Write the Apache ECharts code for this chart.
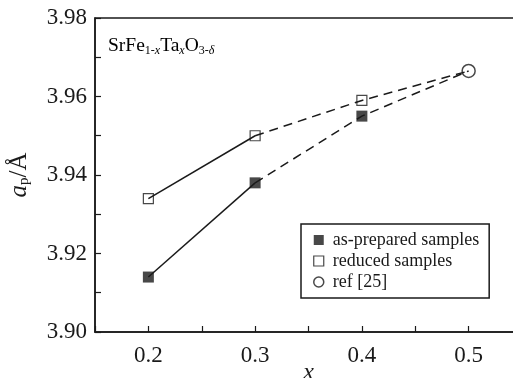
<!DOCTYPE html>
<html>
<head>
<meta charset="utf-8">
<script src="https://cdn.jsdelivr.net/npm/echarts@6/dist/echarts.min.js"></script>
<style>
  html, body { margin: 0; padding: 0; background: #fff; }
  #chart { width: 513px; height: 378px; }
</style>
</head>
<body>
<div id="chart"></div>
<script>
// composition x in SrFe(1-x)Ta(x)O(3-d)
const xValues = [0.2, 0.3, 0.4]
const asPrepared = [3.914, 3.938, 3.955]
const reduced = [3.934, 3.950, 3.959]
const refX = [0.5]
const refA = [3.9665]
const yTicks = [3.90, 3.92, 3.94, 3.96, 3.98]
const xTicks = [0.2, 0.3, 0.4, 0.5]

const INK = '#1a1a1a'
const FONT = '"Liberation Serif", "DejaVu Serif", serif'

const pairs = (xs, ys) => xs.map((x, i) => [x, ys[i]])
const asPts = pairs(xValues, asPrepared)
const redPts = pairs(xValues, reduced)
const refPts = pairs(refX, refA)

const near = (v, list) => list.some(t => Math.abs(t - v) < 1e-6)

const chart = echarts.init(document.getElementById('chart'), null, { renderer: 'canvas' })

const lineBase = {
    type: 'line',
    showSymbol: false,
    symbol: 'none',
    silent: true,
    animation: false,
    z: 2,
}

const option = {
    animation: false,
    textStyle: { fontFamily: FONT, color: INK },
    grid: {
        left: 95, top: 18, right: -9, bottom: 46,
        outerBoundsMode: 'none',
        containLabel: false,
        show: true, borderColor: INK, borderWidth: 1.5, backgroundColor: 'transparent',
    },
    xAxis: {
        type: 'value', min: 0.15, max: 0.55, interval: 0.05,
        axisLine: { lineStyle: { color: INK, width: 1.5 } },
        axisTick: { inside: true, length: 6, lineStyle: { color: INK, width: 1.2 } },
        splitLine: { show: false },
        axisLabel: {
            margin: 12, fontSize: 23, color: INK, fontFamily: FONT,
            formatter: v => near(v, xTicks) ? v.toFixed(1) : '',
        },
        name: 'x',
        nameLocation: 'middle',
        nameGap: 29,
        nameMoveOverlap: false,
        nameTextStyle: { fontFamily: FONT, fontStyle: 'italic', fontSize: 24, color: INK },
    },
    yAxis: {
        type: 'value', min: 3.90, max: 3.98, interval: 0.01,
        axisLine: { lineStyle: { color: INK, width: 1.5 } },
        axisTick: { inside: true, length: 6, lineStyle: { color: INK, width: 1.2 } },
        splitLine: { show: false },
        axisLabel: {
            margin: 8, fontSize: 23, color: INK, fontFamily: FONT,
            formatter: v => near(v, yTicks) ? v.toFixed(2) : '',
        },
        name: '{i|a}{s|p}{n|/Å}',
        nameLocation: 'middle',
        nameGap: 63,
        nameRotate: 90,
        nameMoveOverlap: false,
        nameTextStyle: {
            rich: {
                i: { fontFamily: FONT, fontStyle: 'italic', fontSize: 25, color: INK },
                s: { fontFamily: FONT, fontSize: 15, color: INK, padding: [10, 0, 0, 0] },
                n: { fontFamily: FONT, fontSize: 25, color: INK },
            },
        },
    },
    legend: {
        orient: 'vertical',
        left: 301, top: 224,
        padding: [7, 10, 7, 12],
        itemGap: 3,
        itemWidth: 10, itemHeight: 10,
        borderColor: INK, borderWidth: 1.5,
        textStyle: { fontFamily: FONT, fontSize: 18, lineHeight: 18, color: INK, padding: [0, 0, 0, 4] },
        data: [
            { name: 'as-prepared samples', icon: 'rect', itemStyle: { color: INK, borderWidth: 0 } },
            { name: 'reduced samples', icon: 'rect', itemStyle: { color: 'rgba(0,0,0,0)', borderColor: INK, borderWidth: 1.2 } },
            { name: 'ref [25]', icon: 'circle', itemStyle: { color: 'rgba(0,0,0,0)', borderColor: INK, borderWidth: 1.5 } },
        ],
    },
    graphic: [
        {
            type: 'text', left: 108, top: 36, silent: true,
            style: {
                text: '{n|SrFe}{s|1-}{si|x}{n|Ta}{si|x}{n|O}{s|3-}{si|δ}',
                rich: {
                    n: { fontFamily: FONT, fontSize: 19.5, color: INK },
                    s: { fontFamily: FONT, fontSize: 12, color: INK, padding: [9, 0, 0, 0] },
                    si: { fontFamily: FONT, fontSize: 12, fontStyle: 'italic', color: INK, padding: [9, 0, 0, 0] },
                },
            },
        },
    ],
    series: [
        // solid segments between the first two compositions
        { ...lineBase, data: asPts.slice(0, 2), lineStyle: { color: INK, width: 1.5 } },
        { ...lineBase, data: redPts.slice(0, 2), lineStyle: { color: INK, width: 1.5 } },
        // dashed continuation towards the literature point
        { ...lineBase, data: asPts.slice(1).concat(refPts), lineStyle: { color: INK, width: 1.5, type: [9, 6] } },
        { ...lineBase, data: redPts.slice(1).concat(refPts), lineStyle: { color: INK, width: 1.5, type: [9, 6] } },
        {
            name: 'as-prepared samples', type: 'scatter', data: asPts,
            symbol: 'rect', symbolSize: 11, z: 3,
            itemStyle: { color: INK },
        },
        {
            name: 'reduced samples', type: 'scatter', data: redPts,
            symbol: 'rect', symbolSize: 10, z: 3,
            itemStyle: { color: 'rgba(0,0,0,0)', borderColor: INK, borderWidth: 1.2 },
        },
        {
            name: 'ref [25]', type: 'scatter', data: refPts,
            symbol: 'circle', symbolSize: 13, z: 3,
            itemStyle: { color: 'rgba(0,0,0,0)', borderColor: INK, borderWidth: 1.5 },
        },
    ],
}

chart.setOption(option)
</script>
</body>
</html>
